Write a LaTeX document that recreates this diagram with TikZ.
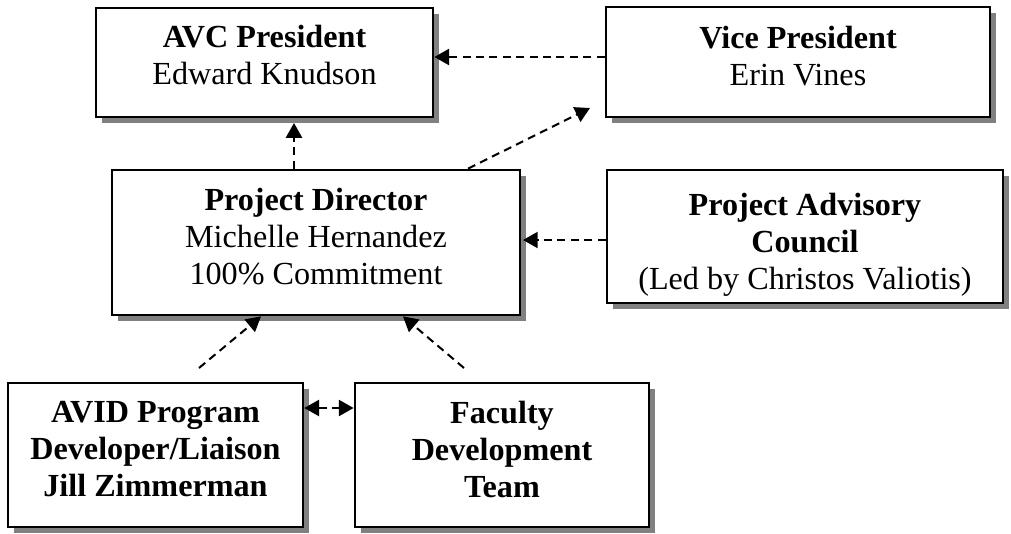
\documentclass[tikz,border=0pt]{standalone}
\usepackage{fontspec}
\setmainfont{Liberation Serif}
\usetikzlibrary{arrows.meta,shadows}

\tikzset{
  box/.style={draw, line width=1pt, fill=white, inner sep=0pt,
    drop shadow={shadow xshift=2.3pt, shadow yshift=-2.3pt, fill=gray, opacity=1}},
  txt/.style={align=center, inner sep=0pt, anchor=north, font=\fontsize{12}{13.8}\selectfont},
  link/.style={line width=0.75pt, dash pattern=on 3pt off 2pt, ->},
  >={Triangle[length=5.5pt,width=6pt]},
}

\begin{document}
\begin{tikzpicture}[x=0.373pt,y=0.373pt,yscale=-1,xscale=1]
  \useasboundingbox (0,0) rectangle (1011,533);

  %Shape: Rectangle -- top row
  \node[box, minimum width=125.7pt, minimum height=40.7pt] (avc) at (264.5,62.5) {};
  \node[box, minimum width=143.2pt, minimum height=41pt] (vp) at (798,62) {};
  %Shape: Rectangle -- middle row
  \node[box, minimum width=152.2pt, minimum height=54.1pt] (pd) at (316,242.5) {};
  \node[box, minimum width=147.7pt, minimum height=49.6pt] (pac) at (805,236.5) {};
  %Shape: Rectangle -- bottom row
  \node[box, minimum width=110pt, minimum height=53.7pt] (avid) at (155.5,455) {};
  \node[box, minimum width=109.7pt, minimum height=53.7pt] (fdt) at (502,455) {};

  % Text Node
  \node[txt] (avct) at (264.5,25) {\textbf{AVC President}\\Edward Knudson};
  % Text Node
  \node[txt] (vpt) at (798,26) {\textbf{Vice President}\\Erin Vines};
  % Text Node
  \node[txt] (pdt) at (316,188) {\textbf{Project Director}\\Michelle Hernandez\\100\% Commitment};
  % Text Node
  \node[txt] (pact) at (805,193) {\textbf{Project Advisory}\\\textbf{Council}\\(Led by Christos Valiotis)};
  % Text Node
  \node[txt] (avidt) at (155.5,401) {\textbf{AVID Program}\\\textbf{Developer/Liaison}\\\textbf{Jill Zimmerman}};
  % Text Node
  \node[txt] (fdtt) at (502,401) {\textbf{Faculty}\\\textbf{Development}\\\textbf{Team}};

  %free ends of the dashed links
  \coordinate (avcdrop) at (294,123);
  \coordinate (vpdrop) at (590,108);
  \coordinate (pdside) at (523,240);
  \coordinate (avidrise) at (199,368);
  \coordinate (fdtrise) at (464,368);

  %Straight Lines
  \draw[link] (vp.west |- 0,57) -- (avc.east |- 0,57);
  \draw[link] (pd.north -| 294,0) -- (avcdrop);
  \draw[link] (pd.north -| 468,0) -- (vpdrop);
  \draw[link] (pac.west |- 0,240) -- (pdside);
  \draw[link] (avidrise) -- (pd.south -| 261,0);
  \draw[link] (fdtrise) -- (pd.south -| 403,0);
  \draw[link, <->] (avid.east |- 0,408) -- (fdt.west |- 0,408);
\end{tikzpicture}
\end{document}
